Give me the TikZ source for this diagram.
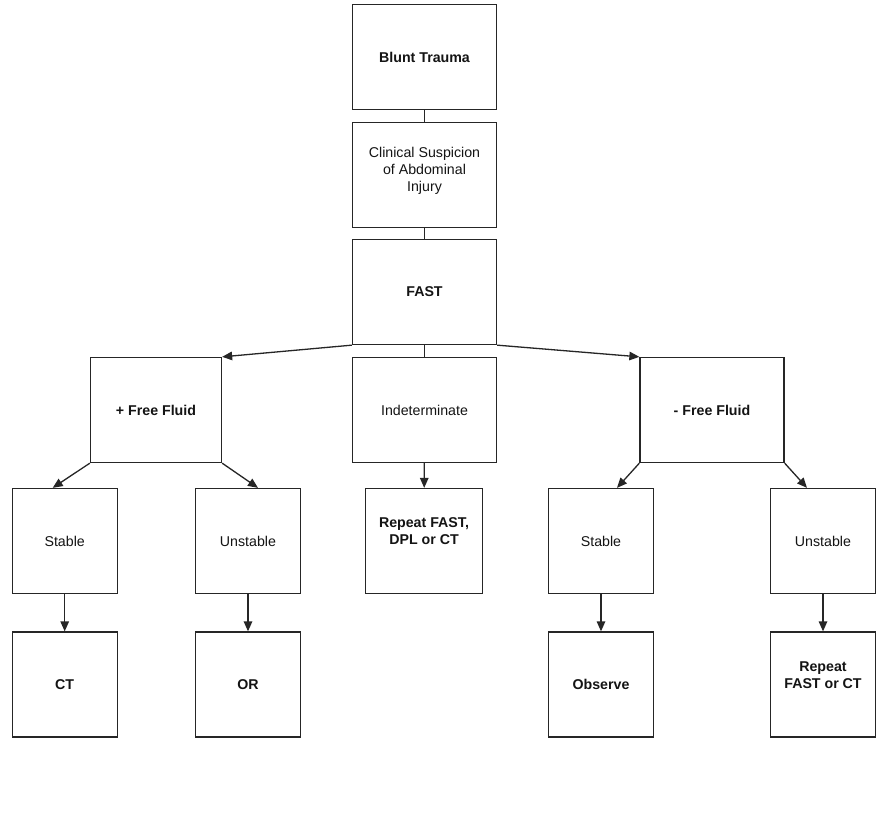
\documentclass[tikz,border=0pt]{standalone}
\usepackage{fontspec}
\setmainfont{Liberation Sans}
\usetikzlibrary{arrows.meta,calc}
\begin{document}
\begin{tikzpicture}[x=1pt,y=-1pt,
  box/.style={draw=black!85, line width=1.3pt, rectangle, minimum width=105pt, minimum height=105pt, inner sep=0pt},
  wide/.style={box, minimum width=144pt},
  txt/.style={font=\fontsize{14.2}{17}\selectfont, align=center, text=black!92},
  btxt/.style={txt, font=\fontsize{14.2}{17}\selectfont\bfseries},
  conn/.style={draw=black!85, line width=1.3pt},
  arr/.style={conn, -{Triangle[length=10pt,width=8.5pt]}}
]
\useasboundingbox (0,0) rectangle (886,816);
\fill[white] (0,0) rectangle (886,816);

\node[wide, btxt] (bt) at (424.5,57) {Blunt Trauma};
\node[wide, label={[txt, yshift=4pt]center:Clinical Suspicion\\of Abdominal\\Injury}] (cs) at (424.5,175) {};
\node[wide, btxt] (fast) at (424.5,292) {FAST};
\node[box, minimum width=131pt, btxt] (pff) at (156,410) {+ Free Fluid};
\node[wide, txt] (ind) at (424.5,410) {Indeterminate};
\node[wide, btxt] (nff) at (712,410) {- Free Fluid};

\node[box, txt] (ls) at (64.7,541) {Stable};
\node[box, txt] (lu) at (248,541) {Unstable};
\node[box, minimum width=116.5pt, label={[btxt, yshift=10pt]center:Repeat FAST,\\DPL or CT}] (rep) at (424,541) {};
\node[box, txt] (rs) at (601,541) {Stable};
\node[box, txt] (ru) at (823,541) {Unstable};

\node[box, btxt] (ct) at (64.7,684.5) {CT};
\node[box, btxt] (or) at (248,684.5) {OR};
\node[box, btxt] (obs) at (601,684.5) {Observe};
\node[box, label={[btxt, yshift=9.5pt]center:Repeat\\FAST or CT}] (rfc) at (823,684.5) {};

\draw[conn] (bt) -- (cs);
\draw[conn] (cs) -- (fast);
\draw[conn] (fast) -- (ind);
\draw[arr] (fast.south west) -- (pff.north east);
\draw[arr] (fast.south east) -- (nff.north west);
\draw[arr] (ind) -- (rep);

\draw[arr] (pff.south west) -- ($(ls.north)+(-12,0)$);
\draw[arr] (pff.south east) -- ($(lu.north)+(10,0)$);
\draw[arr] (nff.south west) -- ($(rs.north)+(16,0)$);
\draw[arr] (nff.south east) -- ($(ru.north)+(-16,0)$);

\draw[arr] (ls) -- (ct);
\draw[arr] (lu) -- (or);
\draw[arr] (rs) -- (obs);
\draw[arr] (ru) -- (rfc);
\end{tikzpicture}
\end{document}
